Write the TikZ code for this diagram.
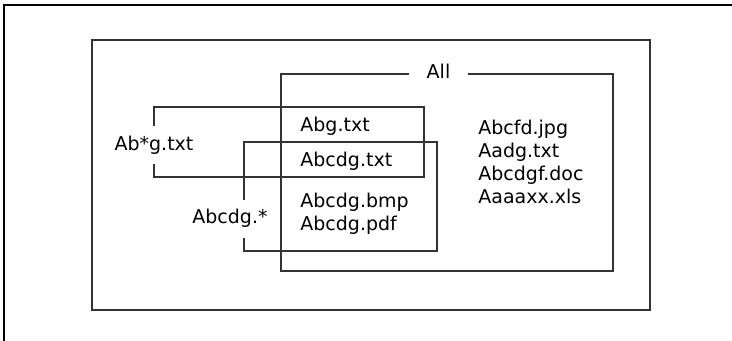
\documentclass[tikz,border=0pt]{standalone}
\usepackage{fontspec}
\setmainfont{DejaVu Sans}
\usetikzlibrary{positioning,calc}

\begin{document}
\begin{tikzpicture}[x=0.5pt,y=-0.5pt,
  box/.style={line width=0.6pt, draw=black!80},
  setlabel/.style={inner xsep=1pt, inner ysep=4.7pt, font=\fontsize{9.5}{11.5}\selectfont},
  file/.style={anchor=base west, inner sep=0pt, font=\fontsize{9.5}{11.5}\selectfont}]
  \useasboundingbox (0,0) rectangle (732,341);

  %% Frame
  \draw[line width=1.1pt] (4,341) -- (4,5) -- (732,5);

  %% Outer box
  \draw[box] (92,40) rectangle (650,310);

  %% All
  \coordinate (allnw) at (281,74);
  \coordinate (allse) at (613,271);
  \node[setlabel, inner xsep=8.8pt, anchor=base] (alllbl) at (438.5,78.3) {All};
  \draw[box] (alllbl.east |- allnw) -- (allse |- allnw) -- (allse) -- (allnw |- allse) -- (allnw) -- (alllbl.west |- allnw);

  %% Ab*g.txt
  \coordinate (abgnw) at (154,107);
  \coordinate (abgse) at (424,177);
  \node[setlabel, anchor=base] (abglbl) at (154,150.7) {Ab*g.txt};
  \draw[box] (abgnw |- abglbl.south) -- (abgnw |- abgse) -- (abgse) -- (abgse |- abgnw) -- (abgnw) -- (abgnw |- abglbl.north);

  %% Abcdg.*
  \coordinate (abcnw) at (244,142);
  \coordinate (abcse) at (437,251);
  \node[setlabel, anchor=base] (abclbl) at (230,224) {Abcdg.*};
  \draw[box] (abcnw |- abclbl.south) -- (abcnw |- abcse) -- (abcse) -- (abcse |- abcnw) -- (abcnw) -- (abcnw |- abclbl.north);

  %% Files inside the sets
  \node[file] (abgtxt)   at (300,131.7) {Abg.txt};
  \node[file] (abcdgtxt) at (300,166.7) {Abcdg.txt};
  \node[file] (abcdgbmp) at (300,208)   {Abcdg.bmp};
  \node[file] (abcdgpdf) at (300,230.7) {Abcdg.pdf};

  %% Other files
  \node[file] (abcfdjpg)  at (478,135)   {Abcfd.jpg};
  \node[file] (aadgtxt)   at (478,157.7) {Aadg.txt};
  \node[file] (abcdgfdoc) at (478,180.5) {Abcdgf.doc};
  \node[file] (aaaaxxxls) at (478,203.3) {Aaaaxx.xls};
\end{tikzpicture}
\end{document}
